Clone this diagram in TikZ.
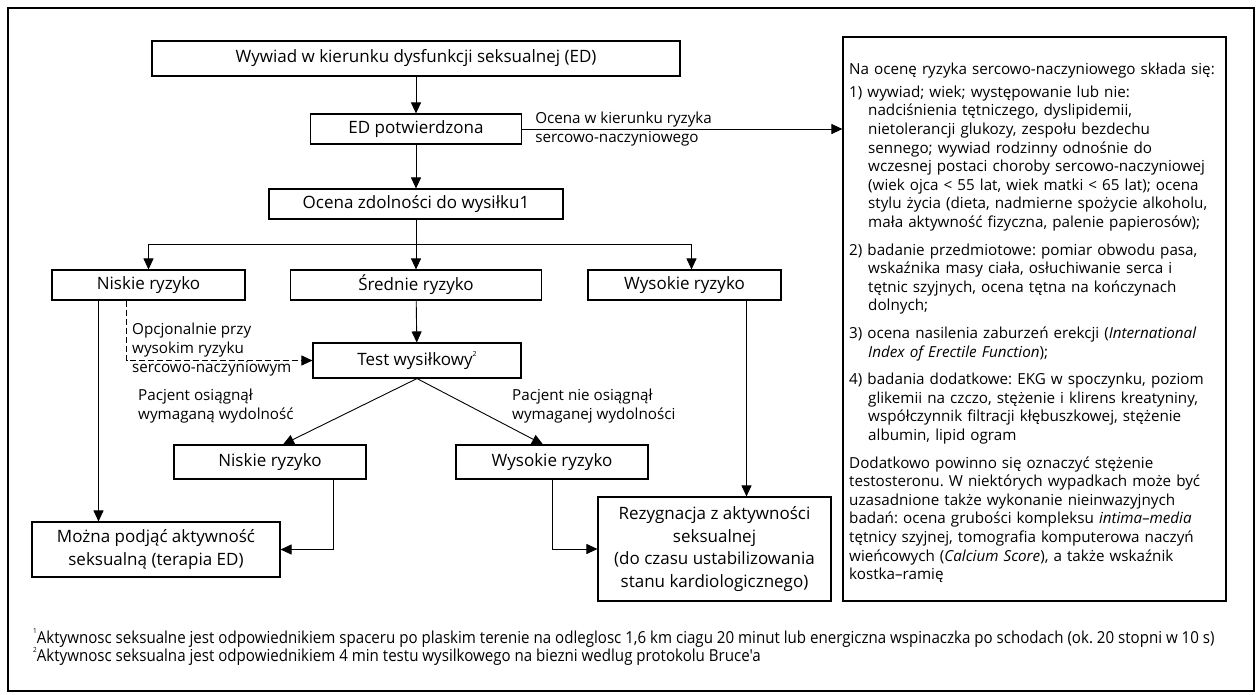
\documentclass[tikz,border=0pt]{standalone}
\usepackage{fontspec}
\setmainfont{Open Sans}
\newfontfamily\fnfont{Open Sans}[FakeStretch=0.915]
\usepackage{tikz}
\usetikzlibrary{%
  arrows.meta,
  calc
}
\frenchspacing
\tikzset{
  >={Triangle[length=11pt,width=10pt]},
  krok/.style={draw, line width=1.1pt, inner sep=0pt, align=center,
    font=\fontsize{17}{22.5}\selectfont},
  opis/.style={inner sep=0pt, align=left, anchor=west,
    font=\fontsize{15.2}{19}\selectfont},
  strz/.style={line width=0.9pt},
  przyp/.style={inner sep=0pt, anchor=west, font=\fnfont\fontsize{16.5}{18}\selectfont},
}
\newcommand{\wc}{\newline\hspace*{19pt}}
\newcommand{\gora}[1]{\raisebox{0.55em}{\fontsize{7}{7}\selectfont #1}}

\begin{document}
\begin{tikzpicture}[x=1pt,y=-1pt]
\useasboundingbox (0,0) rectangle (1256,694);
%%%ramka
\draw[line width=1.2pt] (8,8) rectangle (1254,691);

%%%os glowna
\node[krok,minimum width=528,minimum height=35] (wywiad) at (416,58.5) {Wywiad w kierunku dysfunkcji seksualnej (ED)};
\node[krok,minimum width=211,minimum height=30] (edpotw) at (416,129) {ED potwierdzona};
\node[krok,minimum width=294,minimum height=30] (ocenazd) at (416,204) {Ocena zdolności do wysiłku1};
\draw[strz,->] (wywiad) -- (edpotw);
\draw[strz,->] (edpotw) -- (ocenazd);

%%%ryzyko
\node[krok,minimum width=193,minimum height=30] (niskie) at (148.5,285) {Niskie ryzyko};
\node[krok,minimum width=251,minimum height=30] (srednie) at (416,285) {Średnie ryzyko};
\node[krok,minimum width=193,minimum height=30] (wysokie) at (684.5,285) {Wysokie ryzyko};
\coordinate (rozw) at (416,244);
\draw[strz] (ocenazd) -- (rozw);
\draw[strz,->] (rozw) -| (niskie.north);
\draw[strz,->] (rozw) -| ([xshift=7pt]wysokie.north);
\draw[strz,->] (rozw) -- (srednie);

%%%test
\node[krok,minimum width=208,minimum height=35] (test) at (417,360.5) {Test wysiłkowy\gora{2}};
\draw[strz,->] (srednie) -- (test);
\coordinate (przer) at ([xshift=-22pt]niskie.south);
\draw[strz,dash pattern=on 6pt off 3pt,->] (przer) |- (test.west);
\node[opis] (opcjo) at (132,349.5) {Opcjonalnie przy\\wysokim ryzyku\\sercowo-naczyniowym};

%%%po tescie
\node[krok,minimum width=192,minimum height=34] (niskie2) at (270,462) {Niskie ryzyko};
\node[krok,minimum width=192,minimum height=34] (wysokie2) at (552,462) {Wysokie ryzyko};
\draw[strz,->] (test.south) -- ([xshift=13pt]niskie2.north);
\draw[strz,->] (test.south) -- ([xshift=-9pt]wysokie2.north);
\node[opis] (osiagnal) at (138,406.5) {Pacjent osiągnął\\wymaganą wydolność};
\node[opis] (nieosiag) at (512,406.5) {Pacjent nie osiągnął\\wymaganej wydolności};

%%%decyzje
\node[krok,minimum width=248,minimum height=55] (mozna) at (156,549.5) {Można podjąć aktywność\\seksualną (terapia ED)};
\node[krok,minimum width=233,minimum height=104] (rezyg) at (714.5,549) {Rezygnacja z aktywności\\seksualnej\\(do czasu ustabilizowania\\stanu kardiologicznego)};
\coordinate (lewa) at ([xshift=-50pt]niskie.south);
\draw[strz,->] (lewa) -- (lewa |- mozna.north);
\coordinate (nisk2p) at ([xshift=63pt]niskie2.south);
\draw[strz,->] (nisk2p) |- (mozna.east);
\draw[strz,->] (wysokie2.south) |- (rezyg.west);
\coordinate (wysp) at ([xshift=62pt]wysokie.south);
\draw[strz,->] (wysp) -- (wysp |- rezyg.north);

%%%ocena ryzyka sercowo-naczyniowego
\node[draw,line width=1.1pt,minimum width=383,minimum height=564,inner sep=0pt] (ocenabox) at (1034.5,319) {};
\draw[strz,->] (edpotw.east) -- (edpotw.east -| ocenabox.west);
\node[opis] (ocenalbl) at ([xshift=13pt]edpotw.east) {Ocena w kierunku ryzyka\\sercowo-naczyniowego};
\node[anchor=north west,inner sep=0pt,text width=376pt,align=left,
  font=\fontsize{15.2}{18.6}\selectfont] (ocenatxt) at (849,63) {%
Na ocenę ryzyka sercowo-naczyniowego składa się:\par\vspace{4pt}
1) wywiad; wiek; występowanie lub nie:\wc nadciśnienia tętniczego, dyslipidemii,\wc nietolerancji glukozy, zespołu bezdechu\wc sennego; wywiad rodzinny odnośnie do\wc wczesnej postaci choroby sercowo-naczyniowej\wc (wiek ojca < 55 lat, wiek matki < 65 lat); ocena\wc stylu życia (dieta, nadmierne spożycie alkoholu,\wc mała aktywność fizyczna, palenie papierosów);\par\vspace{9pt}
2) badanie przedmiotowe: pomiar obwodu pasa,\wc wskaźnika masy ciała, osłuchiwanie serca i\wc tętnic szyjnych, ocena tętna na kończynach\wc dolnych;\par\vspace{9pt}
3) ocena nasilenia zaburzeń erekcji (\textit{International}\wc \textit{Index of Erectile Function});\par\vspace{9pt}
4) badania dodatkowe: EKG w spoczynku, poziom\wc glikemii na czczo, stężenie i klirens kreatyniny,\wc współczynnik filtracji kłębuszkowej, stężenie\wc albumin, lipid ogram\par\vspace{9pt}
Dodatkowo powinno się oznaczyć stężenie\newline testosteronu. W niektórych wypadkach może być\newline uzasadnione także wykonanie nieinwazyjnych\newline badań: ocena grubości kompleksu \textit{intima–media}\newline tętnicy szyjnej, tomografia komputerowa naczyń\newline wieńcowych (\textit{Calcium Score}), a także wskaźnik\newline kostka–ramię};

%%%przypisy
\node[przyp] (przyp1) at (33,638) {\gora{1}Aktywnosc seksualne jest odpowiednikiem spaceru po plaskim terenie na odleglosc 1,6 km ciagu 20 minut lub energiczna wspinaczka po schodach (ok. 20 stopni w 10 s)};
\node[przyp] (przyp2) at (33,656) {\gora{2}Aktywnosc seksualna jest odpowiednikiem 4 min testu wysilkowego na biezni wedlug protokolu Bruce'a};

\end{tikzpicture}
\end{document}
